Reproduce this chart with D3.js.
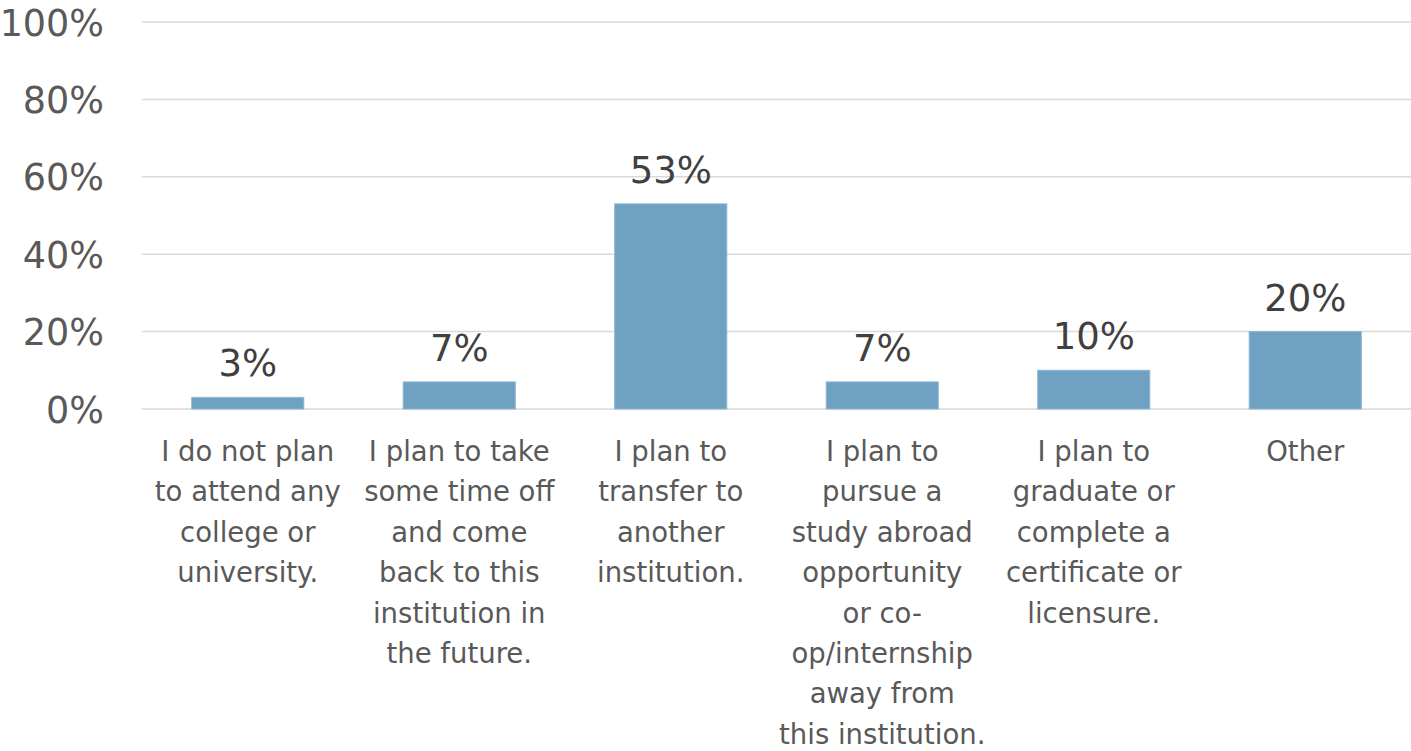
<!DOCTYPE html>
<html>
<head>
<meta charset="utf-8">
<script src="https://cdn.jsdelivr.net/npm/d3@7"></script>
<style>
  html, body { margin: 0; padding: 0; background: #ffffff; }
  svg { display: block; }
  text { font-family: "DejaVu Sans", sans-serif; }
</style>
</head>
<body>
<svg id="chart" width="1411" height="751"></svg>
<script>
// Category labels, one entry per line of the wrapped label
const categories = [
  ["I do not plan", "to attend any", "college or", "university."],
  ["I plan to take", "some time off", "and come", "back to this", "institution in", "the future."],
  ["I plan to", "transfer to", "another", "institution."],
  ["I plan to", "pursue a", "study abroad", "opportunity", "or co-", "op/internship", "away from", "this institution."],
  ["I plan to", "graduate or", "complete a", "certificate or", "licensure."],
  ["Other"]
];
const values = [0.03, 0.07, 0.53, 0.07, 0.10, 0.20];
const yTicks = [0, 0.2, 0.4, 0.6, 0.8, 1.0];

const svg = d3.select("#chart");
const plotLeft = 142, plotRight = 1411, plotTop = 22, plotBottom = 409;

const keys = categories.map((c, i) => String(i));
const x = d3.scaleBand().domain(keys).range([plotLeft, plotRight])
  .paddingInner(0.47).paddingOuter(0.235);
const y = d3.scaleLinear().domain([0, 1]).range([plotBottom, plotTop]);
const pct = d3.format(".0%");

// Horizontal gridlines
svg.append("g").selectAll("line").data(yTicks).join("line")
  .attr("x1", plotLeft).attr("x2", plotRight)
  .attr("y1", d => y(d)).attr("y2", d => y(d))
  .attr("stroke", "#d9d9d9").attr("stroke-width", 1.5);

// Y axis labels
const yAxis = d3.axisLeft(y).tickValues(yTicks).tickFormat(pct).tickSize(0).tickPadding(0);
const yG = svg.append("g").attr("transform", `translate(${104},0)`).call(yAxis);
yG.select(".domain").remove();
yG.selectAll("text")
  .attr("fill", "#595959")
  .style("font-size", "36.5px")
  .style("font-family", "'DejaVu Sans', sans-serif")
  .attr("dy", "0.36em");

// Bars
svg.append("g").selectAll("rect").data(values).join("rect")
  .attr("x", (d, i) => x(keys[i]))
  .attr("width", x.bandwidth())
  .attr("y", d => y(d))
  .attr("height", d => y(0) - y(d))
  .attr("fill", "#6fa1c2")
  .attr("stroke", "#8db6d1").attr("stroke-width", 1);

// Value labels above bars
svg.append("g").selectAll("text").data(values).join("text")
  .attr("x", (d, i) => x(keys[i]) + x.bandwidth() / 2)
  .attr("y", d => y(d) - 21)
  .attr("text-anchor", "middle")
  .attr("fill", "#404040")
  .style("font-size", "37px")
  .text(d => pct(d));

// Category labels
const cat = svg.append("g").selectAll("text").data(categories).join("text")
  .attr("text-anchor", "middle")
  .attr("fill", "#595959")
  .style("font-size", "27.5px");
cat.each(function(lines, i) {
  const cx = x(keys[i]) + x.bandwidth() / 2;
  d3.select(this).selectAll("tspan").data(lines).join("tspan")
    .attr("x", cx)
    .attr("y", (d, j) => 461 + j * 40.4)
    .text(d => d);
});
</script>
</body>
</html>
